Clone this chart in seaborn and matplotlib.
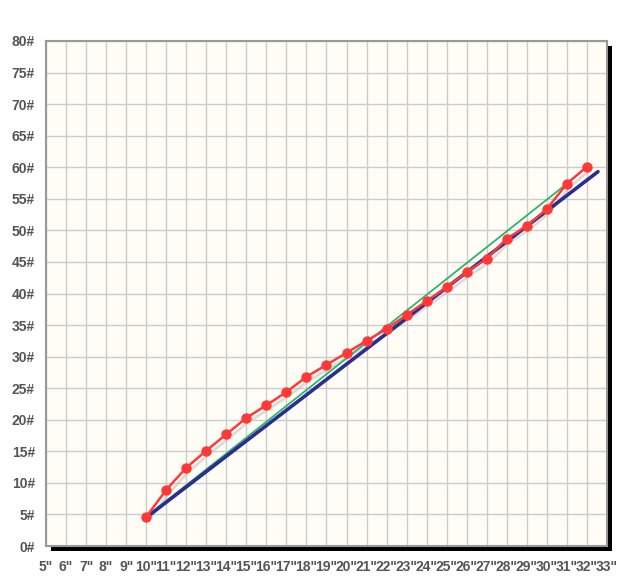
import matplotlib
matplotlib.use("Agg")
import matplotlib.pyplot as plt
from matplotlib.patches import Rectangle
import numpy as np
import pandas as pd
import seaborn as sns

# data
inches = list(range(10, 33))
pounds = [4.6, 8.9, 12.4, 15.1, 17.7, 20.3, 22.3, 24.4, 26.8, 28.7, 30.6, 32.5,
          34.4, 36.6, 38.8, 41.0, 43.4, 45.5, 48.7, 50.7, 53.4, 57.4, 60.1]
green_x = [10, 31]
green_y = [4.6, 57.4]
blue_x = [10, 32.55]
blue_y = [4.5, 59.3]
x_ticks = list(range(5, 34))
y_ticks = list(range(0, 81, 5))

sns.set_theme(style="white")
plt.rcParams['font.family'] = ['Liberation Sans Narrow', 'Liberation Sans', 'DejaVu Sans']

fig = plt.figure(figsize=(6.3, 5.85), dpi=100)
left, bottom, width, height = 46 / 630, 39 / 585, 561 / 630, 505 / 585
ax = fig.add_axes([left, bottom, width, height])

# drop shadow behind the plot area
fig.patches.append(Rectangle((left + 5 / 630, bottom - 5 / 585), width, height,
                             transform=fig.transFigure, facecolor='black',
                             edgecolor='none', zorder=0))
ax.set_facecolor('#FFFDF6')
ax.set_zorder(1)

df = pd.DataFrame({'x': inches, 'y': pounds})
sns.lineplot(x=green_x, y=green_y, color='#2DB36B', lw=1.3, ax=ax, zorder=3)
sns.lineplot(x=blue_x, y=blue_y, color='#2A2F8F', lw=2.6, ax=ax, zorder=4)
# faint shadow under the red series
sns.lineplot(x=np.array(inches) + 0.12, y=np.array(pounds) - 0.6, color='#BBBBBB',
             lw=2, alpha=0.5, ax=ax, zorder=2)
sns.lineplot(data=df, x='x', y='y', color='#FF3838', lw=1.8, marker='o',
             markersize=7.5, markeredgewidth=0, ax=ax, zorder=5)

ax.set_xlim(5, 33)
ax.set_ylim(0, 80)
ax.set_xticks(x_ticks)
ax.set_xticklabels([f'{v}"' for v in x_ticks])
ax.set_yticks(y_ticks)
ax.set_yticklabels([f'{v}#' for v in y_ticks])
ax.grid(True, color='#CCCCCC', lw=1)
ax.set_axisbelow(True)
for s in ax.spines.values():
    s.set_color('#999999')
    s.set_linewidth(1.5)
ax.tick_params(axis='both', which='both', length=4, width=1.2, color='black',
               labelsize=10, labelcolor='#555555', pad=4)
ax.tick_params(axis='x', pad=6)
for lab in ax.get_xticklabels() + ax.get_yticklabels():
    lab.set_fontweight('bold')
ax.set_xlabel('')
ax.set_ylabel('')

fig.savefig('out.png', dpi=100)
